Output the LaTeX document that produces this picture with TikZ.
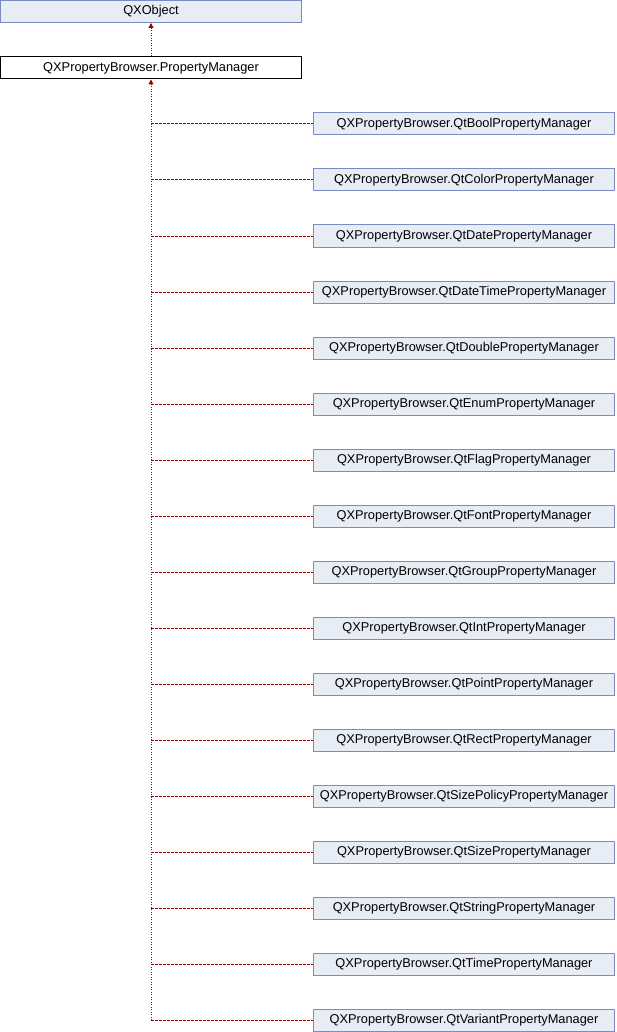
\documentclass[tikz,border=0pt]{standalone}
\usepackage{fontspec}
\setmainfont{Liberation Sans}
\usetikzlibrary{arrows.meta}
\definecolor{boxfill}{HTML}{E8ECF5}
\definecolor{boxdraw}{HTML}{7B8BC2}
\definecolor{linkred}{HTML}{990000}
\begin{document}
\begin{tikzpicture}[x=1pt,y=-1pt,
  cls/.style={draw=boxdraw, fill=boxfill, line width=1pt, minimum width=301pt, minimum height=22pt, inner sep=0pt, font=\fontsize{12.8}{14}\selectfont},
  cur/.style={cls, draw=black, fill=white},
  vlink/.style={draw=linkred, line width=1pt, dash pattern=on 1pt off 1.5pt},
  hlink/.style={draw=linkred, line width=1pt, dash pattern=on 3pt off 1pt},
  tip/.style={-{Triangle[length=5pt,width=5pt,fill=linkred]}}
]
\useasboundingbox (0,0) rectangle (616,1032);
\node[cls] (qxo) at (151,11.5) {QXObject};
\node[cur] (pm) at (151,68) {QXPropertyBrowser.PropertyManager};
\draw[vlink,tip] (pm.north) -- (qxo.south);
\foreach \n [count=\i from 0] in {Bool,Color,Date,DateTime,Double,Enum,Flag,Font,Group,Int,Point,Rect,SizePolicy,Size,String,Time,Variant}{
  \node[cls] (c\i) at (464,124+56*\i) {QXPropertyBrowser.Qt\n PropertyManager};
  \coordinate (j\i) at (151,124+56*\i);
  \draw[hlink] (j\i) -- (c\i.west);
}
\draw[vlink,tip] (j16) -- (pm.south);
\end{tikzpicture}
\end{document}
